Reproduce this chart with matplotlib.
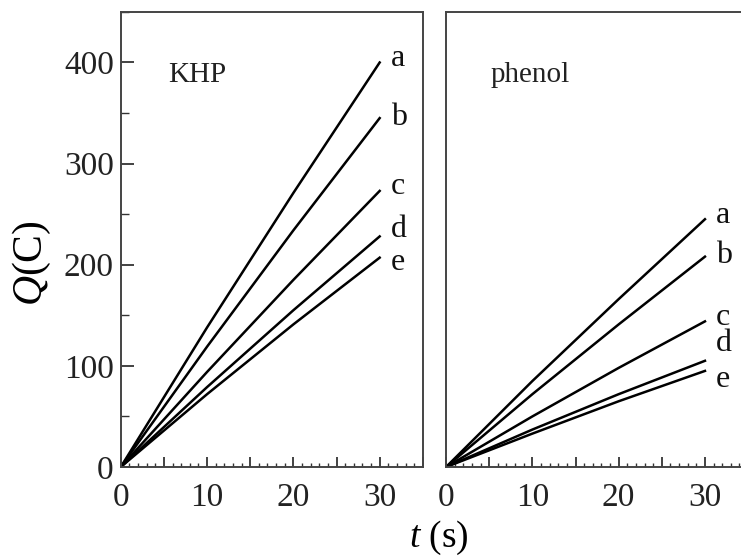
import matplotlib.pyplot as plt
from matplotlib.ticker import MultipleLocator, FuncFormatter

# data (t in s, Q in C)
t = [0, 10, 20, 30]
series = ["a", "b", "c", "d", "e"]
khp = {
    "a": [0, 138, 271, 400],
    "b": [0, 119, 234, 345],
    "c": [0, 94, 185, 273],
    "d": [0, 79, 155, 228],
    "e": [0, 72, 141, 207],
}
phenol = {
    "a": [0, 85, 166, 245],
    "b": [0, 72, 141, 208],
    "c": [0, 50, 98, 144],
    "d": [0, 37, 72, 105],
    "e": [0, 33, 65, 95],
}
# label heights next to line ends
khp_lab = [404, 346, 277, 235, 202]
phenol_lab = [249, 209, 148, 122, 87]

serif = "Liberation Serif"
plt.rcParams["font.family"] = serif
plt.rcParams["mathtext.fontset"] = "custom"
plt.rcParams["mathtext.rm"] = serif
plt.rcParams["mathtext.it"] = serif + ":italic"

fig = plt.figure(figsize=(7.41, 5.57), dpi=100)
ax1 = fig.add_axes([0.163, 0.1616, 0.4076, 0.817])
ax2 = fig.add_axes([0.602, 0.1616, 0.4076, 0.817])

tens = FuncFormatter(lambda v, p: f"{v:.0f}" if round(v) % 10 == 0 else "")

for ax, data, labs, name, nx in [(ax1, khp, khp_lab, "KHP", 5.45), (ax2, phenol, phenol_lab, "phenol", 5.1)]:
    for s, ly in zip(series, labs):
        ax.plot(t, data[s], color="black", lw=1.8)
        ax.text(31.3, ly, s, fontsize=23, va="center", ha="left", color="#111111")
    ax.text(nx, 388, name, fontsize=21, va="center", ha="left", color="#222222")
    ax.set_xlim(0, 35)
    ax.set_ylim(0, 450)
    ax.xaxis.set_major_locator(MultipleLocator(5))
    ax.xaxis.set_major_formatter(tens)
    ax.xaxis.set_minor_locator(MultipleLocator(1))
    ax.yaxis.set_major_locator(MultipleLocator(100))
    ax.yaxis.set_minor_locator(MultipleLocator(50))
    ax.tick_params(which="major", direction="in", length=7, width=1.2, labelsize=24, colors="#222222")
    ax.tick_params(axis="x", which="major", pad=11)
    ax.tick_params(axis="y", which="major", pad=5)
    ax.tick_params(which="minor", direction="in", length=3, width=1.0, colors="#333333")
    for sp in ax.spines.values():
        sp.set_color("#444444")
        sp.set_linewidth(1.4)

ax2.tick_params(axis="y", which="both", left=False, labelleft=False)
ax1.tick_params(axis="y", which="major", length=9)
ax1.tick_params(axis="y", which="minor", length=6)

fig.text(0.043, 0.528, r"$Q$(C)", rotation=90, fontsize=30, ha="center", va="center")
fig.text(0.592, 0.034, r"$t$ (s)", fontsize=27, ha="center", va="center")

fig.savefig("out.png", dpi=100)
